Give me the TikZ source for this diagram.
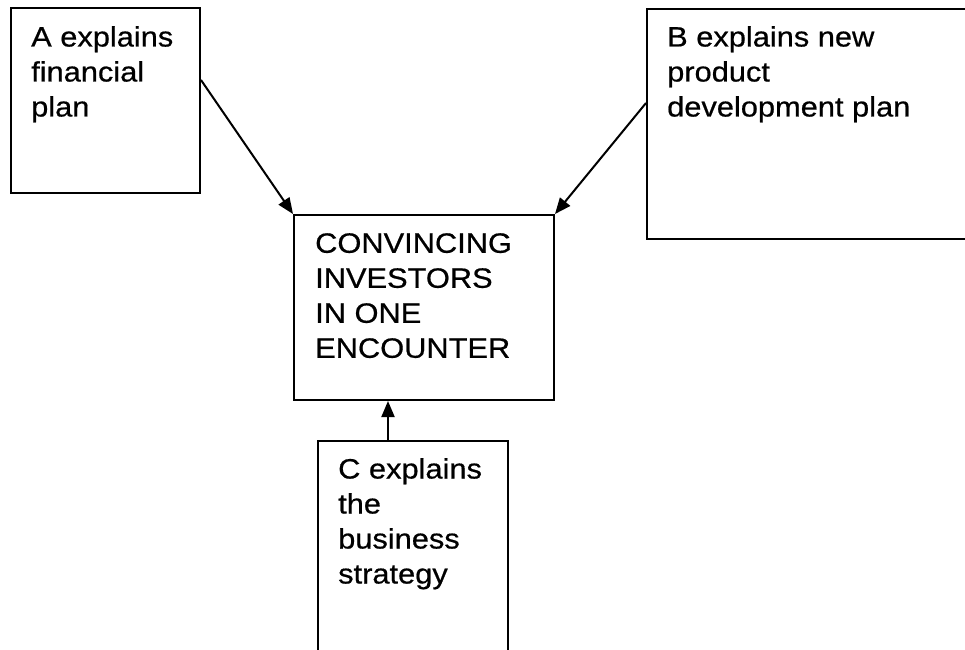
\documentclass[tikz,border=0pt]{standalone}
\usepackage{fontspec}
\setmainfont{Liberation Sans}[FakeStretch=1.1,FakeBold=0.6]
\usetikzlibrary{arrows.meta}
\begin{document}
\begin{tikzpicture}[x=1pt,y=-1pt,
  box/.style={draw,line width=2pt,rectangle,inner sep=0pt,anchor=north west},
  label/.style={anchor=north west,inner sep=0pt,align=left,
    font=\fontsize{28}{35}\selectfont},
  link/.style={line width=2pt,-{Triangle[length=16pt,width=13pt]}}]
\useasboundingbox (0,0) rectangle (965,649);
\clip (0,0) rectangle (965,649);
% boxes
\node[box,minimum width=189pt,minimum height=185pt] (A) at (10,7) {};
\node[box,minimum width=340pt,minimum height=230pt] (B) at (646,8) {};
\node[box,minimum width=260pt,minimum height=185pt] (M) at (293,214) {};
\node[box,minimum width=190pt,minimum height=230pt] (C) at (317,440) {};
% texts
\node[label] (Atext) at (31,26) {A explains\\financial\\plan};
\node[label] (Btext) at (667,26) {B explains new\\product\\development plan};
\node[label] (Mtext) at (315,233) {CONVINCING\\INVESTORS\\IN ONE\\ENCOUNTER};
\node[label] (Ctext) at (338,458) {C explains\\the\\business\\strategy};
% connectors
\draw[link] ([yshift=-73pt]A.north east) -- (M.north west);
\draw[link] ([yshift=-95pt]B.north west) -- (M.north east);
\draw[link] ([xshift=71pt]C.north west) -- ([xshift=71pt]C.north west |- M.south);
\end{tikzpicture}
\end{document}
